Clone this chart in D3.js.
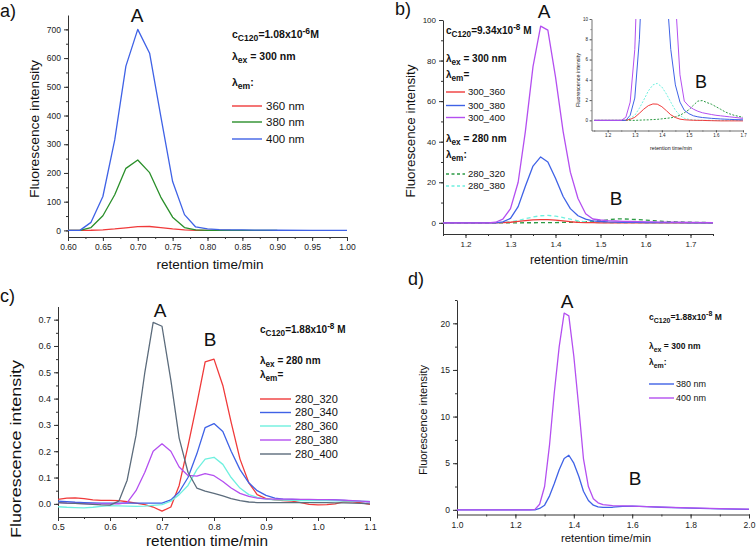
<!DOCTYPE html>
<html><head><meta charset="utf-8">
<script src="https://cdn.jsdelivr.net/npm/d3@7"></script>
<style>
body{margin:0;background:#fff}
svg{display:block}
text{font-family:"Liberation Sans",Arial,sans-serif}
</style>
</head><body>
<svg id="chart" width="756" height="549"></svg>
<script>
// ---------------- DATA ----------------
// Panel a
const timeA = [0.60,0.617,0.633,0.65,0.667,0.683,0.70,0.717,0.733,0.75,0.767,0.783,0.80,0.817,0.833,0.85,0.867,0.883,0.90,0.95,1.00];
const a_400 = [0,0,28,118,315,572,700,617,398,170,55,12,5,3,2,1.5,1,1,0.5,0,0];
const a_380 = [0,0,10,51,124,216,245,201,116,46,10,2,0,0,0,0,0,0,0];
const a_360 = [0,0,0.5,2,5,9,13,13.5,10,5,2,0.5,0,0,0];
const a_labels = ["360 nm","380 nm","400 nm"];

// Panel b (main + inset share data)
const timeB = [1.15,1.2,1.25,1.267,1.283,1.3,1.317,1.333,1.35,1.367,1.383,1.4,1.417,1.433,1.45,1.467,1.483,1.5,1.517,1.533,1.55,1.567,1.583,1.6,1.617,1.633,1.65,1.667,1.7,1.75];
const b_300_400 = [0,0,0,0.3,1.8,7,20,45,77,97,95,72,45,25,12,4.5,1.9,1.4,1.1,0.9,0.75,0.66,0.58,0.5,0.45,0.4,0.35,0.3,0.2,0.1];
const b_300_380 = [0,0,0,0,0.5,2.2,8,18,28,32.5,30,22,13,7,3.5,1.8,1.0,0.66,0.45,0.35,0.28,0.24,0.2,0.17,0.14,0.12,0.1,0.08,0.05,0];
const b_300_360 = [0,0,0,0.02,0.1,0.3,0.7,1.1,1.45,1.62,1.6,1.35,0.95,0.55,0.28,0.12,0.06,0.03,0.01,0,0,-0.02,-0.03,-0.04,-0.05,-0.05,-0.05,-0.05,-0.05,-0.05];
const b_280_380 = [0,0,0,0.05,0.2,0.5,1.2,2.0,2.9,3.5,3.65,3.3,2.6,1.8,1.0,0.5,0.2,0.1,0.05,0.02,0,0,0,0,0,0,0,0,0,0];
const b_280_320 = [0,0,0,0,0,0,0.02,0.04,0.05,0.08,0.1,0.15,0.2,0.25,0.35,0.5,0.75,1.05,1.5,1.9,1.95,1.75,1.6,1.35,1.1,0.85,0.65,0.5,0.3,0.1];

// Panel c
const timeC = [0.5,0.517,0.533,0.55,0.567,0.583,0.6,0.617,0.633,0.65,0.667,0.683,0.7,0.717,0.733,0.75,0.767,0.783,0.8,0.817,0.833,0.85,0.867,0.883,0.9,0.917,0.933,0.95,0.967,0.983,1.0,1.017,1.033,1.05,1.067,1.083,1.1];
const c_280_320 = [0.017,0.022,0.023,0.02,0.015,0.013,0.013,0.012,0.008,0.003,-0.003,-0.012,-0.028,-0.012,0.07,0.22,0.38,0.54,0.55,0.45,0.31,0.17,0.08,0.035,0.02,0.015,0.012,0.01,0.005,-0.002,-0.004,-0.003,0.0,0.008,0.008,0.004,-0.002];
const c_280_340 = [0.01,0.008,0.006,0.005,0.004,0.003,0.003,0.003,0.003,0.003,0.003,0.003,0.003,0.015,0.045,0.1,0.19,0.29,0.305,0.275,0.2,0.13,0.08,0.05,0.032,0.022,0.018,0.017,0.016,0.016,0.016,0.016,0.015,0.013,0.011,0.009,0.008];
const c_280_360 = [-0.011,-0.013,-0.014,-0.015,-0.013,-0.01,-0.007,-0.008,-0.009,-0.01,-0.009,-0.006,-0.003,0.01,0.035,0.07,0.13,0.17,0.177,0.15,0.1,0.06,0.035,0.025,0.018,0.015,0.014,0.013,0.012,0.012,0.012,0.012,0.011,0.01,0.01,0.01,0.009];
const c_280_380 = [0.005,0.003,0.002,0.001,0,0,0,0,0.005,0.05,0.12,0.2,0.228,0.2,0.14,0.108,0.105,0.115,0.107,0.085,0.06,0.04,0.028,0.022,0.019,0.018,0.018,0.018,0.017,0.017,0.016,0.016,0.015,0.014,0.012,0.01,0.008];
const c_280_400 = [0.005,0.003,0.002,0,-0.002,-0.004,-0.005,0.01,0.09,0.26,0.5,0.69,0.675,0.47,0.25,0.12,0.06,0.048,0.04,0.03,0.02,0.012,0.007,0.005,0.005,0.005,0.005,0.005,0.005,0.005,0.005,0.005,0.004,0.004,0.003,0.002,0.0];

// Panel d
const timeD = [1.0,1.1,1.2,1.25,1.267,1.283,1.3,1.317,1.333,1.35,1.367,1.383,1.4,1.417,1.433,1.45,1.467,1.483,1.5,1.533,1.567,1.6,1.65,1.7,1.8,1.9,2.0];
const d_400 = [0,0,0,0,0.05,0.6,2.5,7,12.5,17.5,21.1,20.8,16.5,11,5.5,2.5,1.2,0.75,0.55,0.45,0.42,0.4,0.35,0.3,0.2,0.12,0.08];
const d_380 = [0,0,0,0,0,0.15,0.5,1.5,2.8,4.3,5.5,5.85,5.0,3.6,2.0,1.0,0.5,0.32,0.26,0.28,0.38,0.4,0.35,0.28,0.18,0.1,0.05];

// Tick values
const ticksAx = [0.60,0.65,0.70,0.75,0.80,0.85,0.90,0.95,1.00];
const ticksAy = [0,100,200,300,400,500,600,700];
const ticksBx = [1.2,1.3,1.4,1.5,1.6,1.7];
const ticksBy = [0,20,40,60,80,100];
const ticksInsetX = [1.2,1.3,1.4,1.5,1.6,1.7];
const ticksInsetY = [0,2,4,6,8,10];
const ticksCx = [0.5,0.6,0.7,0.8,0.9,1.0,1.1];
const ticksCy = [0.0,0.1,0.2,0.3,0.4,0.5,0.6,0.7];
const ticksDx = [1.0,1.2,1.4,1.6,1.8,2.0];
const ticksDy = [0,5,10,15,20];

// ---------------- DRAWING ----------------
const svg = d3.select("#chart");
const AXC = "#333";
let clipId = 0;

function rich(g, x, y, parts, size, weight) {
  const t = g.append("text").attr("x", x).attr("y", y)
    .attr("font-size", size).attr("font-weight", weight || "normal").attr("fill", "#111");
  let cur = 0;
  parts.forEach(p => {
    const s = p[0], kind = p[1] || "";
    const target = kind === "sub" ? 0.32 * size : kind === "sup" ? -0.42 * size : 0;
    const ts = t.append("tspan").text(s).attr("dy", target - cur);
    if (kind) ts.attr("font-size", size * 0.82);
    cur = target;
  });
  return t;
}

function range(a, b, step) {
  const out = [];
  for (let v = a; v <= b + step * 1e-6; v += step) out.push(+v.toFixed(6));
  return out;
}

function panel(cfg) {
  const x = d3.scaleLinear().domain(cfg.xDomain).range([cfg.left, cfg.right]);
  const y = d3.scaleLinear().domain(cfg.yDomain).range([cfg.bottom, cfg.top]);
  const g = svg.append("g");
  const fs = cfg.tickFont;
  const style = sel => {
    sel.select(".domain").attr("stroke", AXC).attr("stroke-width", cfg.axW || 1);
    sel.selectAll(".tick line").attr("stroke", AXC).attr("stroke-width", cfg.axW || 1);
    sel.selectAll(".tick text").attr("fill", "#222").attr("font-size", fs)
      .attr("font-family", '"Liberation Sans",Arial,sans-serif');
  };
  // minor ticks
  g.append("g").attr("transform", `translate(0,${cfg.bottom})`)
    .call(d3.axisBottom(x).tickValues(cfg.xMinor).tickSize(cfg.minorLen).tickFormat(""))
    .call(style).call(s => s.select(".domain").remove());
  g.append("g").attr("transform", `translate(${cfg.left},0)`)
    .call(d3.axisLeft(y).tickValues(cfg.yMinor).tickSize(cfg.minorLen).tickFormat(""))
    .call(style).call(s => s.select(".domain").remove());
  // major
  g.append("g").attr("transform", `translate(0,${cfg.bottom})`)
    .call(d3.axisBottom(x).tickValues(cfg.xTicks).tickSize(cfg.majorLen).tickSizeOuter(0)
      .tickPadding(cfg.pad).tickFormat(d3.format(cfg.xFmt)))
    .call(style);
  g.append("g").attr("transform", `translate(${cfg.left},0)`)
    .call(d3.axisLeft(y).tickValues(cfg.yTicks).tickSize(cfg.majorLen).tickSizeOuter(0)
      .tickPadding(cfg.pad).tickFormat(d3.format(cfg.yFmt)))
    .call(style);

  // clip
  const id = "clip" + (clipId++);
  svg.append("clipPath").attr("id", id).append("rect")
    .attr("x", cfg.left).attr("y", cfg.top)
    .attr("width", cfg.right - cfg.left).attr("height", cfg.bottom - cfg.top);
  const line = d3.line().x(d => x(d[0])).y(d => y(d[1]));
  const lg = g.append("g").attr("clip-path", `url(#${id})`);
  cfg.series.forEach(s => {
    lg.append("path").datum(d3.zip(s.t, s.v))
      .attr("fill", "none").attr("stroke", s.color).attr("stroke-width", cfg.lineW || 1.3)
      .attr("stroke-dasharray", s.dash || null).attr("stroke-linejoin", "round")
      .attr("d", line);
  });

  // axis titles
  g.append("text").attr("x", cfg.xLabel[0]).attr("y", cfg.xLabel[1])
    .attr("text-anchor", "middle").attr("font-size", cfg.labelFont).attr("fill", "#111")
    .attr("textLength", cfg.xLabel[2]).attr("lengthAdjust", "spacingAndGlyphs")
    .text("retention time/min");
  g.append("text").attr("transform", `translate(${cfg.yLabel[0]},${cfg.yLabel[1]}) rotate(-90)`)
    .attr("text-anchor", "middle").attr("font-size", cfg.labelFont).attr("fill", "#111")
    .attr("textLength", cfg.yLabel[2]).attr("lengthAdjust", "spacingAndGlyphs")
    .text("Fluorescence intensity");
  return g;
}

function legendItems(g, items, x1, x2, tx, size) {
  items.forEach(it => {
    g.append("line").attr("x1", x1).attr("x2", x2).attr("y1", it.y).attr("y2", it.y)
      .attr("stroke", it.color).attr("stroke-width", 1.4).attr("stroke-dasharray", it.dash || null);
    g.append("text").attr("x", tx).attr("y", it.y + size * 0.36).attr("font-size", size)
      .attr("fill", "#111").text(it.label);
  });
}

function bigLabel(text, x, y, size, anchor) {
  svg.append("text").attr("x", x).attr("y", y).attr("font-size", size)
    .attr("text-anchor", anchor || "middle").attr("fill", "#111").text(text);
}

// colors
const RED = "#f03a3a", GREEN = "#2a8f2a", BLUE = "#3f62e6", PURPLE = "#b44ff0",
      CYAN = "#6ff0df", GRAY = "#5c6c7c", DGREEN = "#2c9a44";

// ---- Panel a ----
const ga = panel({
  left: 68, right: 347, top: 15, bottom: 237,
  xDomain: [0.6, 1.0], yDomain: [-23, 750],
  xTicks: ticksAx, yTicks: ticksAy, xMinor: range(0.6, 1.0, 0.025), yMinor: range(0, 700, 50),
  xFmt: ".2f", yFmt: "d", tickFont: 8.5, majorLen: 4, minorLen: 2, pad: 3,
  labelFont: 13.5, xLabel: [210, 269, 107], yLabel: [39, 129, 138],
  series: [
    { t: timeA, v: a_360, color: RED },
    { t: timeA, v: a_380, color: GREEN },
    { t: timeA, v: a_400, color: BLUE }
  ]
});
rich(ga, 232, 38, [["c"], ["C120", "sub"], ["=1.08x10"], ["-6", "sup"], ["M"]], 10.5, "bold");
rich(ga, 232, 60, [["λ"], ["ex", "sub"], [" = 300 nm"]], 10.5, "bold");
rich(ga, 232, 86, [["λ"], ["em", "sub"], [":"]], 10.5, "bold");
legendItems(ga, [
  { y: 106, color: RED, label: a_labels[0] },
  { y: 122, color: GREEN, label: a_labels[1] },
  { y: 139, color: BLUE, label: a_labels[2] }
], 232, 262, 266, 11.5);
bigLabel("a)", 0, 17, 18, "start");
bigLabel("A", 137, 22, 19);

// ---- Panel b ----
const gb = panel({
  left: 443, right: 713, top: 20, bottom: 234,
  xDomain: [1.15, 1.75], yDomain: [-5.5, 100],
  xTicks: ticksBx, yTicks: ticksBy, xMinor: range(1.15, 1.75, 0.05), yMinor: range(0, 100, 10),
  xFmt: ".1f", yFmt: "d", tickFont: 8, majorLen: 4, minorLen: 2, pad: 3,
  labelFont: 12.5, xLabel: [579, 264, 98], yLabel: [415, 131, 133],
  series: [
    { t: timeB, v: b_280_320, color: DGREEN, dash: "4,3" },
    { t: timeB, v: b_280_380, color: CYAN, dash: "4,3" },
    { t: timeB, v: b_300_360, color: RED },
    { t: timeB, v: b_300_380, color: BLUE },
    { t: timeB, v: b_300_400, color: PURPLE }
  ]
});
rich(gb, 446, 34, [["c"], ["C120", "sub"], ["=9.34x10"], ["-8", "sup"], [" M"]], 10, "bold");
rich(gb, 446, 62, [["λ"], ["ex", "sub"], [" = 300 nm"]], 10, "bold");
rich(gb, 446, 78, [["λ"], ["em", "sub"], ["="]], 10, "bold");
legendItems(gb, [
  { y: 92, color: RED, label: "300_360" },
  { y: 105.5, color: BLUE, label: "300_380" },
  { y: 117.5, color: PURPLE, label: "300_400" }
], 446, 465, 468, 9.5);
rich(gb, 446, 142, [["λ"], ["ex", "sub"], [" = 280 nm"]], 10, "bold");
rich(gb, 446, 158, [["λ"], ["em", "sub"], [":"]], 10, "bold");
legendItems(gb, [
  { y: 174, color: DGREEN, label: "280_320", dash: "3,2.5" },
  { y: 186, color: CYAN, label: "280_380", dash: "3,2.5" }
], 446, 465, 468, 9.5);
bigLabel("b)", 395, 15, 18, "start");
bigLabel("A", 544, 18, 19);
bigLabel("B", 616, 205, 19);

// inset
const gi = panel({
  left: 591.5, right: 743, top: 19, bottom: 130.5,
  xDomain: [1.14, 1.7], yDomain: [-1, 10],
  xTicks: ticksInsetX, yTicks: ticksInsetY, xMinor: range(1.15, 1.7, 0.05), yMinor: range(0, 10, 1),
  xFmt: ".1f", yFmt: "d", tickFont: 4.5, majorLen: 2, minorLen: 1, pad: 1.5, axW: 0.7, lineW: 1,
  labelFont: 4.5, xLabel: [671, 150, 42], yLabel: [580, 80, 54],
  series: [
    { t: timeB, v: b_280_320, color: DGREEN, dash: "2,1.5" },
    { t: timeB, v: b_280_380, color: CYAN, dash: "2,1.5" },
    { t: timeB, v: b_300_360, color: RED },
    { t: timeB, v: b_300_380, color: BLUE },
    { t: timeB, v: b_300_400, color: PURPLE }
  ]
});
bigLabel("B", 701, 88, 18);

// ---- Panel c ----
const gc = panel({
  left: 58, right: 370, top: 306.5, bottom: 517,
  xDomain: [0.5, 1.1], yDomain: [-0.05, 0.75],
  xTicks: ticksCx, yTicks: ticksCy, xMinor: range(0.5, 1.1, 0.05), yMinor: range(0, 0.7, 0.05),
  xFmt: ".1f", yFmt: ".1f", tickFont: 9, majorLen: 4, minorLen: 2, pad: 3,
  labelFont: 14.5, xLabel: [207, 546, 122], yLabel: [21, 449, 178],
  series: [
    { t: timeC, v: c_280_320, color: RED },
    { t: timeC, v: c_280_340, color: BLUE },
    { t: timeC, v: c_280_360, color: CYAN },
    { t: timeC, v: c_280_380, color: PURPLE },
    { t: timeC, v: c_280_400, color: GRAY }
  ]
});
rich(gc, 260, 333, [["c"], ["C120", "sub"], ["=1.88x10"], ["-8", "sup"], [" M"]], 10, "bold");
rich(gc, 260, 364, [["λ"], ["ex", "sub"], [" = 280 nm"]], 10, "bold");
rich(gc, 260, 378, [["λ"], ["em", "sub"], ["="]], 10, "bold");
legendItems(gc, [
  { y: 399, color: RED, label: "280_320" },
  { y: 412.5, color: BLUE, label: "280_340" },
  { y: 426, color: CYAN, label: "280_360" },
  { y: 440, color: PURPLE, label: "280_380" },
  { y: 454, color: GRAY, label: "280_400" }
], 260, 291, 295, 11);
bigLabel("c)", 0, 302, 18, "start");
bigLabel("A", 160, 317, 19);
bigLabel("B", 210, 346, 19);

// ---- Panel d ----
const gd = panel({
  left: 457, right: 749, top: 300, bottom: 514.5,
  xDomain: [1.0, 2.0], yDomain: [-0.5, 22.5],
  xTicks: ticksDx, yTicks: ticksDy, xMinor: range(1.0, 2.0, 0.1), yMinor: range(0, 22.5, 2.5),
  xFmt: ".1f", yFmt: "d", tickFont: 8.5, majorLen: 4, minorLen: 2, pad: 3,
  labelFont: 11.5, xLabel: [606, 542, 90], yLabel: [427, 420, 110],
  series: [
    { t: timeD, v: d_380, color: BLUE },
    { t: timeD, v: d_400, color: PURPLE }
  ]
});
rich(gd, 649, 320, [["c"], ["C120", "sub"], ["=1.88x10"], ["-8", "sup"], [" M"]], 8.5, "bold");
rich(gd, 649, 349, [["λ"], ["ex", "sub"], [" = 300 nm"]], 8.5, "bold");
rich(gd, 649, 365, [["λ"], ["em", "sub"], [":"]], 8.5, "bold");
legendItems(gd, [
  { y: 384, color: BLUE, label: "380 nm" },
  { y: 398, color: PURPLE, label: "400 nm" }
], 649, 674, 676, 9);
bigLabel("d)", 408, 285, 18, "start");
bigLabel("A", 567, 308, 19);
bigLabel("B", 635, 485, 19);
</script>
</body></html>
